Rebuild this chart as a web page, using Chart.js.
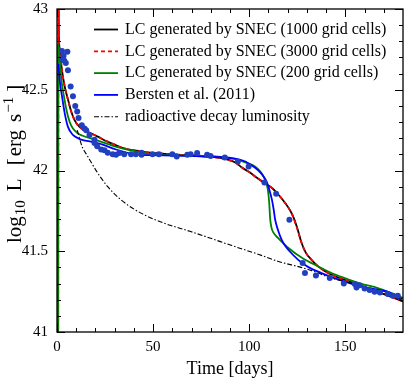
<!DOCTYPE html>
<html><head><meta charset="utf-8">
<script src="https://cdn.jsdelivr.net/npm/chart.js@4/dist/chart.umd.min.js"></script>
<style>html,body{margin:0;padding:0;background:#fff}canvas{display:block}</style>
</head><body>
<canvas id="c" width="407" height="382"></canvas>
<script>
// ---- series labels ----
const LABEL_1000 = 'LC generated by SNEC (1000 grid cells)';
const LABEL_3000 = 'LC generated by SNEC (3000 grid cells)';
const LABEL_200  = 'LC generated by SNEC (200 grid cells)';
const LABEL_BERSTEN = 'Bersten et al. (2011)';
const LABEL_DECAY = 'radioactive decay luminosity';

// ---- SNEC 1000 grid cells (days, log10 L) ----
const t1000 = [0.6,0.75,0.9,1.4,2.6,4.0,5.7,7.4,9.2,11.7,16,21.2,26,30,34,40,46,55,63,70,80,88,92.8,96,100,104,108.3,112,115.2,118,120.4,122.5,124.7,127.3,129.5,132.4,136,141,148,155,162,170,180];
const L1000 = [40.5,43.3,42.9,42.75,42.62,42.52,42.44,42.365,42.31,42.27,42.24,42.21,42.18,42.16,42.14,42.125,42.113,42.105,42.098,42.094,42.085,42.07,42.05,42.02,41.99,41.955,41.92,41.89,41.85,41.81,41.77,41.725,41.655,41.55,41.49,41.447,41.405,41.365,41.33,41.30,41.27,41.235,41.19];

// ---- SNEC 3000 grid cells ----
const t3000 = [0.6,0.75,0.9,1.4,2.6,4.0,5.7,7.4,9.2,11.7,16,21.2,26,30,34,40,46,55,63,70,80,88,92.8,96,100,104,108.3,112,115.2,118,120.4,122.5,124.7,127.3,129.5,132.4,136,141,148,155,162,170,180];
const L3000 = [40.5,43.3,42.9,42.75,42.62,42.52,42.44,42.365,42.31,42.27,42.24,42.21,42.18,42.16,42.14,42.125,42.113,42.105,42.098,42.094,42.085,42.068,42.048,42.02,41.99,41.955,41.92,41.89,41.85,41.81,41.77,41.722,41.65,41.55,41.49,41.447,41.405,41.365,41.33,41.30,41.27,41.235,41.19];

// ---- SNEC 200 grid cells ----
const t200 = [0.5,0.6,2.3,3.6,4.9,6.6,8.3,10.9,13.4,20,30,41,50,60,75,85,92.8,98,103,106,107.4,108.6,109.7,110.4,110.9,111.6,112.6,115.2,120.4,128,135.9,142,149.7,158,166.9,173,180];
const L200 = [40.5,42.78,42.56,42.46,42.376,42.30,42.26,42.23,42.215,42.19,42.15,42.118,42.10,42.095,42.09,42.085,42.07,42.05,42.025,41.99,41.963,41.93,41.88,41.80,41.70,41.645,41.615,41.58,41.52,41.455,41.406,41.37,41.334,41.30,41.272,41.245,41.21];

// ---- Bersten et al. (2011) ----
const tBersten = [0.8,1.4,2.6,4.0,5.7,8.3,10.9,13,17,23.8,30.7,41,50,60,80,92,98,101.5,104.8,107,109.1,110.5,111.8,112.7,113.5,115,116.9,118.7,121,125.5,131,137.6,145,153,163,173.8,180];
const LBersten = [42.66,42.56,42.46,42.355,42.27,42.22,42.20,42.19,42.18,42.16,42.13,42.10,42.095,42.093,42.085,42.075,42.056,42.03,42.00,41.97,41.93,41.88,41.82,41.76,41.695,41.63,41.57,41.534,41.50,41.447,41.40,41.365,41.33,41.30,41.27,41.24,41.19];

// ---- radioactive decay luminosity ----
const tDecay = [10.5,13,16,21.2,26.4,33.3,43.7,55.7,69.5,80,91,105,115.2,127,132.5,142.7,149.7,160,170,180];
const LDecay = [42.25,42.15,42.087,41.984,41.90,41.818,41.736,41.674,41.622,41.58,41.535,41.48,41.437,41.40,41.38,41.334,41.313,41.275,41.24,41.205];

// ---- observations ----
const tObs = [2.6,5.4,3.4,3.0,4.6,3.8,5.7,7.1,8.3,9.5,10.5,11.2,12.9,14.3,15.2,16.9,19.5,19.5,20.9,23,24.7,26.4,29,30.7,32.4,35,38.5,41,44,44,49.7,53,60,62.3,67.8,69.5,72.9,78.1,79.9,87.3,94.1,99.7,107.9,114,120.9,127.8,129,134.7,141.9,149.2,154.9,157.4,155.8,160,162.6,165.2,168,172.1,174.7,177.3];
const LObs = [42.74,42.735,42.71,42.69,42.665,42.68,42.62,42.52,42.46,42.40,42.365,42.325,42.28,42.26,42.25,42.22,42.19,42.17,42.15,42.13,42.125,42.11,42.10,42.097,42.108,42.10,42.10,42.10,42.097,42.11,42.10,42.10,42.10,42.087,42.097,42.10,42.108,42.097,42.09,42.08,42.056,42.025,41.926,41.856,41.695,41.427,41.365,41.35,41.334,41.30,41.297,41.29,41.276,41.27,41.26,41.25,41.245,41.236,41.224,41.224];

// ---- axes ----
const X_MIN = 0, X_MAX = 180;
const Y_MIN = 41, Y_MAX = 43;
const xTickValues = [0, 50, 100, 150];
const xTickLabels = ['0', '50', '100', '150'];
const yTickValues = [41, 41.5, 42, 42.5, 43];
const yTickLabels = ['41', '41.5', '42', '42.5', '43'];
const xMinorValues = [10,20,30,40,60,70,80,90,110,120,130,140,160,170];
const yMinorValues = [41.1,41.2,41.3,41.4,41.6,41.7,41.8,41.9,42.1,42.2,42.3,42.4,42.6,42.7,42.8,42.9];
const X_TITLE = 'Time [days]';
// y title pieces: text, kind (n = normal, sub, sup), gap after
const Y_TITLE_PARTS = [['log','n',1],['10','sub',9],['L','n',13],['[','n',2],['erg','n',8],['s','n',1],['\u22121','sup',5],[']','n',0]];

const FONT = "'Liberation Serif', 'DejaVu Serif', serif";
const pts = (ts, ls) => ts.map((t, i) => ({x: t, y: ls[i]}));

const lineDs = (label, ts, ls, color, width, dash, order) => ({
  type: 'line', label, data: pts(ts, ls), borderColor: color, backgroundColor: color,
  borderWidth: width, borderDash: dash, pointRadius: 0, fill: false,
  cubicInterpolationMode: 'monotone', order
});

const datasets = [
  lineDs(LABEL_1000, t1000, L1000, '#000000', 1.8, [], 6),
  lineDs(LABEL_3000, t3000, L3000, '#ff0000', 1.8, [4, 3], 5),
  lineDs(LABEL_200, t200, L200, '#008000', 1.8, [], 4),
  lineDs(LABEL_BERSTEN, tBersten, LBersten, '#0000ff', 1.8, [], 3),
  lineDs(LABEL_DECAY, tDecay, LDecay, '#000000', 1.1, [5, 2, 1.5, 2], 2),
  { type: 'scatter', label: '', data: pts(tObs, LObs), showLine: false,
    pointRadius: 3, pointBackgroundColor: '#2040c0', pointBorderColor: '#2040c0',
    pointBorderWidth: 0, order: 1, isObs: true }
];

const frameAndLegend = {
  id: 'frameAndLegend',
  afterDraw(chart) {
    const {ctx, chartArea: a, scales: {x, y}} = chart;
    ctx.save();
    // legend
    const legendItems = chart.data.datasets.filter(d => !d.isObs);
    ctx.font = "16px " + FONT;
    ctx.textBaseline = 'middle';
    ctx.textAlign = 'left';
    ctx.fillStyle = '#000';
    legendItems.forEach((d, i) => {
      const yy = 29.5 + i * 21.8;
      ctx.beginPath();
      ctx.strokeStyle = d.borderColor;
      ctx.lineWidth = d.borderWidth;
      ctx.setLineDash(d.borderDash || []);
      ctx.moveTo(94, yy); ctx.lineTo(118, yy);
      ctx.stroke();
      ctx.setLineDash([]);
      ctx.fillText(d.label, 125, yy);
    });
    // frame
    ctx.strokeStyle = '#000';
    ctx.lineWidth = 1.3;
    ctx.strokeRect(a.left, a.top, a.right - a.left, a.bottom - a.top);
    // inward ticks
    ctx.lineWidth = 1;
    ctx.beginPath();
    const xt = (vals, len) => vals.forEach(v => {
      const px = Math.round(x.getPixelForValue(v)) + 0.5;
      ctx.moveTo(px, a.bottom); ctx.lineTo(px, a.bottom - len);
      ctx.moveTo(px, a.top); ctx.lineTo(px, a.top + len);
    });
    const yt = (vals, len) => vals.forEach(v => {
      const py = Math.round(y.getPixelForValue(v)) + 0.5;
      ctx.moveTo(a.left, py); ctx.lineTo(a.left + len, py);
      ctx.moveTo(a.right, py); ctx.lineTo(a.right - len, py);
    });
    xt(xTickValues, 8); xt(xMinorValues, 4);
    yt(yTickValues, 8); yt(yMinorValues, 4);
    ctx.stroke();
    // y axis title with subscript / superscript
    ctx.save();
    ctx.translate(21, 243);
    ctx.rotate(-Math.PI / 2);
    ctx.textBaseline = 'alphabetic';
    let u = 0;
    Y_TITLE_PARTS.forEach(([txt, kind, gap]) => {
      const small = kind !== 'n';
      ctx.font = (small ? 15 : 21) + "px " + FONT;
      const v = kind === 'sub' ? 4 : kind === 'sup' ? -8 : 0;
      ctx.fillText(txt, u, v);
      u += ctx.measureText(txt).width + gap;
    });
    ctx.restore();
    ctx.restore();
  }
};

const zeroPad = s => { s.paddingTop = 0; s.paddingBottom = 0; s.paddingLeft = 0; s.paddingRight = 0; };

new Chart(document.getElementById('c'), {
  data: { datasets },
  options: {
    responsive: false, devicePixelRatio: 1, animation: false,
    layout: { padding: { top: 9, right: 2, left: 0, bottom: 0 } },
    plugins: { legend: { display: false }, tooltip: { enabled: false } },
    scales: {
      x: {
        type: 'linear', min: X_MIN, max: X_MAX,
        grid: { display: false, drawTicks: false }, border: { display: false },
        afterBuildTicks: s => { s.ticks = xTickValues.map(v => ({value: v})); },
        ticks: { padding: 6, color: '#000', font: { family: FONT, size: 15 },
                 maxRotation: 0, autoSkip: false,
                 callback: v => xTickLabels[xTickValues.indexOf(v)] },
        title: { display: true, text: X_TITLE, color: '#000', font: { family: FONT, size: 18 },
                 padding: { top: 0, bottom: 2 } },
        afterFit: s => { s.height = 50; zeroPad(s); }
      },
      y: {
        type: 'linear', min: Y_MIN, max: Y_MAX,
        grid: { display: false, drawTicks: false }, border: { display: false },
        afterBuildTicks: s => { s.ticks = yTickValues.map(v => ({value: v})); },
        ticks: { padding: 9, color: '#000', font: { family: FONT, size: 15 },
                 autoSkip: false,
                 callback: v => yTickLabels[yTickValues.indexOf(v)] },
        title: { display: false },
        afterFit: s => { s.width = 57; zeroPad(s); }
      }
    }
  },
  plugins: [frameAndLegend]
});
</script>
</body></html>
